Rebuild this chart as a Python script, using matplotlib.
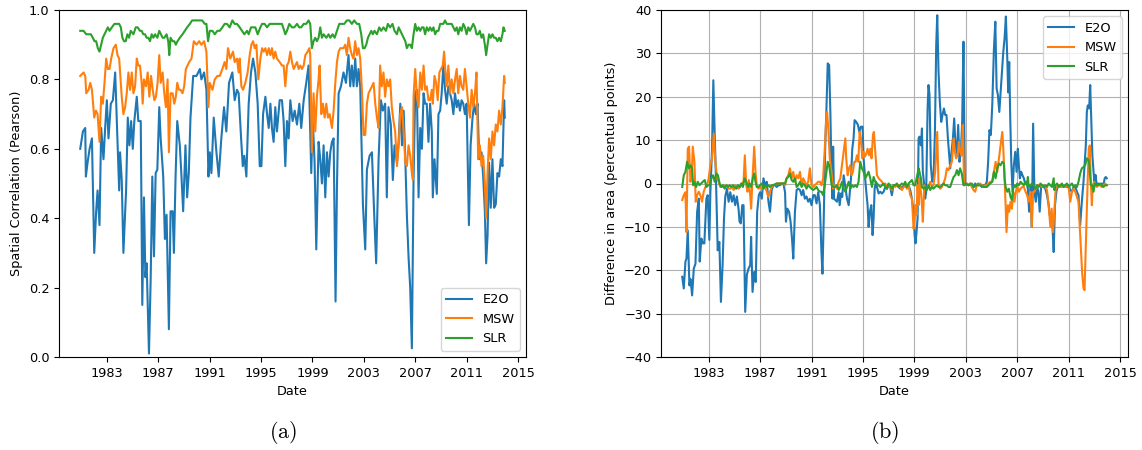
import matplotlib
matplotlib.use("Agg")
import matplotlib.pyplot as plt

plt.rcParams['font.size'] = 9.3
plt.rcParams['mathtext.fontset'] = 'cm'

# (decimal year, value)
# panel (a): spatial correlation
e2o_corr = [
    (1980.93, 0.60), (1981.14, 0.65), (1981.32, 0.66), (1981.37, 0.52), (1981.50, 0.56), (1981.66, 0.60),
    (1981.84, 0.63), (1982.02, 0.30), (1982.17, 0.42), (1982.28, 0.48), (1982.43, 0.38), (1982.56, 0.66),
    (1982.74, 0.57), (1982.87, 0.66), (1983.00, 0.74), (1983.13, 0.63), (1983.31, 0.73), (1983.47, 0.74),
    (1983.65, 0.82), (1983.78, 0.68), (1983.96, 0.48), (1984.03, 0.59), (1984.16, 0.51), (1984.29, 0.30),
    (1984.50, 0.48), (1984.63, 0.69), (1984.76, 0.61), (1984.89, 0.68), (1985.02, 0.60), (1985.14, 0.68),
    (1985.33, 0.75), (1985.45, 0.68), (1985.64, 0.68), (1985.76, 0.15), (1985.89, 0.46), (1986.00, 0.23),
    (1986.10, 0.27), (1986.28, 0.01), (1986.41, 0.22), (1986.54, 0.52), (1986.67, 0.29), (1986.80, 0.53),
    (1986.93, 0.54), (1987.08, 0.72), (1987.19, 0.63), (1987.39, 0.52), (1987.52, 0.34), (1987.65, 0.41),
    (1987.83, 0.08), (1987.96, 0.42), (1988.12, 0.42), (1988.22, 0.30), (1988.35, 0.52), (1988.48, 0.68),
    (1988.68, 0.61), (1988.81, 0.52), (1988.94, 0.42), (1989.12, 0.61), (1989.25, 0.46), (1989.38, 0.53),
    (1989.51, 0.69), (1989.72, 0.81), (1989.98, 0.81), (1990.24, 0.83), (1990.36, 0.80), (1990.57, 0.82),
    (1990.75, 0.77), (1990.91, 0.52), (1991.01, 0.59), (1991.14, 0.53), (1991.32, 0.69), (1991.53, 0.59),
    (1991.71, 0.52), (1991.91, 0.63), (1992.12, 0.72), (1992.30, 0.65), (1992.51, 0.79), (1992.77, 0.82),
    (1992.95, 0.74), (1993.13, 0.77), (1993.26, 0.76), (1993.45, 0.63), (1993.58, 0.55), (1993.70, 0.58),
    (1993.86, 0.52), (1994.04, 0.73), (1994.22, 0.82), (1994.38, 0.86), (1994.56, 0.82), (1994.74, 0.73),
    (1994.90, 0.55), (1995.03, 0.55), (1995.16, 0.70), (1995.34, 0.75), (1995.47, 0.70), (1995.60, 0.66),
    (1995.73, 0.73), (1995.85, 0.66), (1995.98, 0.62), (1996.11, 0.72), (1996.24, 0.65), (1996.45, 0.74),
    (1996.63, 0.74), (1996.76, 0.68), (1996.89, 0.55), (1997.02, 0.68), (1997.15, 0.63), (1997.28, 0.74),
    (1997.46, 0.68), (1997.62, 0.71), (1997.80, 0.67), (1997.98, 0.73), (1998.13, 0.66), (1998.32, 0.74),
    (1998.52, 0.79), (1998.70, 0.84), (1998.91, 0.53), (1999.02, 0.69), (1999.17, 0.56), (1999.30, 0.31),
    (1999.48, 0.62), (1999.61, 0.57), (1999.74, 0.50), (1999.87, 0.61), (2000.00, 0.46), (2000.13, 0.59),
    (2000.26, 0.52), (2000.39, 0.59), (2000.52, 0.62), (2000.65, 0.63), (2000.80, 0.16), (2000.91, 0.49),
    (2001.04, 0.76), (2001.22, 0.78), (2001.42, 0.82), (2001.61, 0.79), (2001.81, 0.87), (2001.94, 0.78),
    (2002.07, 0.84), (2002.20, 0.78), (2002.33, 0.86), (2002.46, 0.78), (2002.59, 0.83), (2002.72, 0.78),
    (2002.93, 0.44), (2003.11, 0.31), (2003.24, 0.54), (2003.45, 0.58), (2003.63, 0.59), (2003.81, 0.41),
    (2003.96, 0.27), (2004.15, 0.57), (2004.33, 0.74), (2004.48, 0.71), (2004.66, 0.73), (2004.79, 0.46),
    (2004.92, 0.72), (2005.10, 0.67), (2005.26, 0.51), (2005.39, 0.61), (2005.58, 0.56), (2005.71, 0.62),
    (2005.84, 0.73), (2005.97, 0.61), (2006.10, 0.71), (2006.23, 0.57), (2006.35, 0.41), (2006.48, 0.29),
    (2006.61, 0.20), (2006.74, 0.025), (2006.87, 0.51), (2007.00, 0.76), (2007.13, 0.77), (2007.26, 0.46),
    (2007.39, 0.66), (2007.52, 0.60), (2007.65, 0.76), (2007.77, 0.73), (2007.90, 0.73), (2008.03, 0.62),
    (2008.16, 0.73), (2008.29, 0.65), (2008.37, 0.46), (2008.50, 0.57), (2008.68, 0.47), (2008.81, 0.70),
    (2008.94, 0.71), (2009.06, 0.76), (2009.19, 0.84), (2009.32, 0.77), (2009.45, 0.73), (2009.58, 0.78),
    (2009.71, 0.76), (2009.84, 0.74), (2009.97, 0.70), (2010.10, 0.76), (2010.23, 0.72), (2010.35, 0.74),
    (2010.48, 0.71), (2010.61, 0.74), (2010.74, 0.73), (2010.87, 0.70), (2011.00, 0.73), (2011.18, 0.38),
    (2011.31, 0.61), (2011.46, 0.69), (2011.59, 0.73), (2011.72, 0.70), (2011.85, 0.73), (2011.98, 0.57),
    (2012.16, 0.59), (2012.29, 0.52), (2012.42, 0.42), (2012.52, 0.27), (2012.63, 0.35), (2012.75, 0.56),
    (2012.88, 0.43), (2013.01, 0.57), (2013.14, 0.43), (2013.27, 0.44), (2013.40, 0.53), (2013.53, 0.52),
    (2013.66, 0.57), (2013.79, 0.55), (2013.92, 0.74), (2013.97, 0.69),
]

msw_corr = [
    (1980.93, 0.81), (1981.19, 0.82), (1981.32, 0.81), (1981.40, 0.76), (1981.58, 0.77), (1981.71, 0.79),
    (1981.84, 0.77), (1982.02, 0.69), (1982.15, 0.71), (1982.28, 0.70), (1982.43, 0.62), (1982.56, 0.75),
    (1982.69, 0.73), (1982.82, 0.79), (1982.95, 0.86), (1983.08, 0.83), (1983.21, 0.83), (1983.34, 0.86),
    (1983.52, 0.89), (1983.70, 0.90), (1983.83, 0.87), (1983.96, 0.86), (1984.03, 0.82), (1984.16, 0.75),
    (1984.29, 0.70), (1984.42, 0.72), (1984.55, 0.76), (1984.68, 0.82), (1984.81, 0.77), (1984.94, 0.82),
    (1985.07, 0.76), (1985.20, 0.78), (1985.33, 0.86), (1985.45, 0.84), (1985.58, 0.84), (1985.71, 0.79),
    (1985.79, 0.73), (1985.89, 0.80), (1986.05, 0.78), (1986.18, 0.82), (1986.31, 0.75), (1986.44, 0.81),
    (1986.57, 0.77), (1986.70, 0.74), (1986.82, 0.75), (1986.95, 0.79), (1987.08, 0.87), (1987.19, 0.79),
    (1987.34, 0.82), (1987.47, 0.76), (1987.60, 0.72), (1987.73, 0.80), (1987.83, 0.59), (1987.96, 0.76),
    (1988.12, 0.76), (1988.25, 0.73), (1988.37, 0.75), (1988.48, 0.79), (1988.61, 0.77), (1988.74, 0.77),
    (1988.89, 0.76), (1989.02, 0.78), (1989.15, 0.83), (1989.28, 0.84), (1989.41, 0.85), (1989.59, 0.86),
    (1989.77, 0.91), (1989.98, 0.90), (1990.18, 0.91), (1990.36, 0.90), (1990.57, 0.91), (1990.75, 0.88),
    (1990.91, 0.72), (1991.01, 0.79), (1991.22, 0.77), (1991.40, 0.80), (1991.60, 0.81), (1991.79, 0.81),
    (1991.99, 0.83), (1992.17, 0.85), (1992.30, 0.83), (1992.43, 0.89), (1992.61, 0.86), (1992.82, 0.88),
    (1992.95, 0.85), (1993.13, 0.86), (1993.26, 0.82), (1993.34, 0.86), (1993.47, 0.78), (1993.60, 0.77),
    (1993.78, 0.79), (1993.96, 0.82), (1994.12, 0.87), (1994.25, 0.90), (1994.38, 0.91), (1994.51, 0.89),
    (1994.64, 0.90), (1994.79, 0.80), (1994.95, 0.86), (1995.08, 0.89), (1995.21, 0.88), (1995.34, 0.89),
    (1995.47, 0.87), (1995.60, 0.89), (1995.73, 0.87), (1995.85, 0.89), (1995.98, 0.86), (1996.11, 0.88),
    (1996.24, 0.86), (1996.45, 0.85), (1996.63, 0.84), (1996.76, 0.84), (1996.89, 0.78), (1997.02, 0.84),
    (1997.15, 0.85), (1997.28, 0.88), (1997.41, 0.85), (1997.54, 0.83), (1997.67, 0.84), (1997.80, 0.85),
    (1997.93, 0.83), (1998.06, 0.84), (1998.19, 0.83), (1998.32, 0.84), (1998.45, 0.87), (1998.63, 0.88),
    (1998.76, 0.89), (1998.83, 0.87), (1998.96, 0.59), (1999.09, 0.76), (1999.22, 0.65), (1999.35, 0.75),
    (1999.48, 0.80), (1999.56, 0.84), (1999.69, 0.70), (1999.82, 0.73), (1999.95, 0.69), (2000.08, 0.73),
    (2000.21, 0.69), (2000.34, 0.70), (2000.52, 0.66), (2000.65, 0.71), (2000.78, 0.79), (2000.91, 0.85),
    (2001.04, 0.88), (2001.17, 0.89), (2001.30, 0.89), (2001.42, 0.89), (2001.55, 0.90), (2001.68, 0.87),
    (2001.81, 0.92), (2001.94, 0.89), (2002.07, 0.87), (2002.20, 0.86), (2002.33, 0.91), (2002.46, 0.87),
    (2002.59, 0.89), (2002.72, 0.86), (2002.85, 0.77), (2002.98, 0.64), (2003.11, 0.64), (2003.24, 0.73),
    (2003.37, 0.76), (2003.50, 0.77), (2003.63, 0.78), (2003.76, 0.79), (2003.89, 0.73), (2004.02, 0.69),
    (2004.15, 0.66), (2004.27, 0.84), (2004.40, 0.78), (2004.53, 0.82), (2004.66, 0.75), (2004.79, 0.80),
    (2004.92, 0.78), (2005.05, 0.80), (2005.18, 0.72), (2005.31, 0.68), (2005.44, 0.65), (2005.58, 0.55),
    (2005.71, 0.61), (2005.84, 0.70), (2005.97, 0.72), (2006.10, 0.65), (2006.23, 0.56), (2006.35, 0.55),
    (2006.48, 0.61), (2006.61, 0.58), (2006.74, 0.53), (2006.82, 0.51), (2006.87, 0.75), (2007.00, 0.83),
    (2007.13, 0.75), (2007.26, 0.72), (2007.39, 0.82), (2007.52, 0.77), (2007.65, 0.84), (2007.77, 0.77),
    (2007.90, 0.78), (2008.03, 0.74), (2008.16, 0.74), (2008.29, 0.77), (2008.37, 0.73), (2008.50, 0.81),
    (2008.63, 0.79), (2008.75, 0.74), (2008.88, 0.82), (2009.01, 0.83), (2009.14, 0.84), (2009.25, 0.88),
    (2009.35, 0.82), (2009.45, 0.78), (2009.58, 0.84), (2009.71, 0.76), (2009.84, 0.80), (2009.97, 0.76),
    (2010.10, 0.80), (2010.23, 0.83), (2010.35, 0.76), (2010.48, 0.81), (2010.61, 0.78), (2010.74, 0.77),
    (2010.87, 0.83), (2011.00, 0.78), (2011.13, 0.73), (2011.26, 0.69), (2011.39, 0.77), (2011.52, 0.72),
    (2011.65, 0.76), (2011.77, 0.82), (2011.90, 0.57), (2012.03, 0.61), (2012.16, 0.55), (2012.29, 0.58),
    (2012.42, 0.50), (2012.52, 0.40), (2012.63, 0.53), (2012.75, 0.63), (2012.88, 0.57), (2013.01, 0.65),
    (2013.14, 0.61), (2013.27, 0.67), (2013.40, 0.65), (2013.53, 0.71), (2013.66, 0.67), (2013.79, 0.72),
    (2013.92, 0.81), (2013.97, 0.79),
]

slr_corr = [
    (1980.93, 0.94), (1981.19, 0.94), (1981.40, 0.93), (1981.58, 0.93), (1981.76, 0.93), (1981.91, 0.92),
    (1982.04, 0.91), (1982.17, 0.91), (1982.30, 0.89), (1982.43, 0.88), (1982.56, 0.90), (1982.69, 0.92),
    (1982.82, 0.93), (1982.95, 0.94), (1983.08, 0.95), (1983.21, 0.94), (1983.39, 0.95), (1983.59, 0.96),
    (1983.78, 0.96), (1983.96, 0.96), (1984.09, 0.95), (1984.21, 0.92), (1984.34, 0.91), (1984.47, 0.91),
    (1984.60, 0.93), (1984.73, 0.92), (1984.86, 0.94), (1985.07, 0.93), (1985.25, 0.95), (1985.40, 0.95),
    (1985.58, 0.94), (1985.71, 0.94), (1985.84, 0.93), (1985.97, 0.93), (1986.10, 0.92), (1986.23, 0.92),
    (1986.36, 0.91), (1986.49, 0.93), (1986.62, 0.92), (1986.75, 0.93), (1986.93, 0.92), (1987.08, 0.94),
    (1987.21, 0.93), (1987.34, 0.92), (1987.47, 0.92), (1987.65, 0.93), (1987.78, 0.91), (1987.86, 0.87),
    (1987.96, 0.92), (1988.12, 0.91), (1988.25, 0.91), (1988.37, 0.90), (1988.50, 0.91), (1988.68, 0.92),
    (1988.89, 0.93), (1989.07, 0.94), (1989.25, 0.95), (1989.46, 0.96), (1989.64, 0.97), (1989.85, 0.97),
    (1990.05, 0.97), (1990.24, 0.97), (1990.42, 0.97), (1990.62, 0.96), (1990.75, 0.96), (1990.88, 0.91),
    (1991.01, 0.94), (1991.22, 0.94), (1991.40, 0.93), (1991.60, 0.94), (1991.79, 0.94), (1991.99, 0.95),
    (1992.17, 0.96), (1992.35, 0.96), (1992.56, 0.95), (1992.77, 0.97), (1992.95, 0.96), (1993.13, 0.96),
    (1993.34, 0.95), (1993.52, 0.94), (1993.70, 0.93), (1993.91, 0.94), (1994.04, 0.93), (1994.22, 0.95),
    (1994.38, 0.95), (1994.56, 0.95), (1994.74, 0.93), (1994.95, 0.95), (1995.08, 0.96), (1995.28, 0.96),
    (1995.47, 0.95), (1995.67, 0.96), (1995.85, 0.96), (1996.04, 0.96), (1996.24, 0.96), (1996.45, 0.96),
    (1996.63, 0.96), (1996.81, 0.94), (1996.89, 0.93), (1997.02, 0.94), (1997.20, 0.96), (1997.41, 0.95),
    (1997.59, 0.95), (1997.80, 0.96), (1997.98, 0.95), (1998.13, 0.95), (1998.32, 0.96), (1998.52, 0.96),
    (1998.70, 0.97), (1998.83, 0.96), (1998.96, 0.89), (1999.09, 0.91), (1999.22, 0.92), (1999.35, 0.91),
    (1999.48, 0.92), (1999.61, 0.95), (1999.74, 0.92), (1999.87, 0.93), (2000.08, 0.92), (2000.26, 0.93),
    (2000.39, 0.92), (2000.57, 0.93), (2000.73, 0.92), (2000.91, 0.94), (2001.09, 0.96), (2001.30, 0.96),
    (2001.48, 0.96), (2001.68, 0.97), (2001.87, 0.97), (2002.07, 0.96), (2002.25, 0.97), (2002.46, 0.96),
    (2002.64, 0.96), (2002.80, 0.93), (2002.93, 0.89), (2003.06, 0.89), (2003.19, 0.90), (2003.32, 0.92),
    (2003.45, 0.93), (2003.58, 0.94), (2003.70, 0.93), (2003.83, 0.94), (2004.02, 0.93), (2004.20, 0.95),
    (2004.35, 0.94), (2004.53, 0.95), (2004.72, 0.94), (2004.87, 0.96), (2005.05, 0.95), (2005.23, 0.96),
    (2005.39, 0.94), (2005.58, 0.93), (2005.71, 0.95), (2005.84, 0.94), (2005.97, 0.93), (2006.10, 0.92),
    (2006.23, 0.91), (2006.35, 0.89), (2006.48, 0.90), (2006.61, 0.90), (2006.74, 0.89), (2006.87, 0.93),
    (2007.00, 0.96), (2007.13, 0.94), (2007.26, 0.95), (2007.39, 0.94), (2007.52, 0.95), (2007.65, 0.95),
    (2007.77, 0.93), (2007.90, 0.95), (2008.03, 0.94), (2008.16, 0.95), (2008.29, 0.94), (2008.42, 0.95),
    (2008.55, 0.93), (2008.68, 0.94), (2008.81, 0.94), (2008.94, 0.96), (2009.06, 0.96), (2009.19, 0.96),
    (2009.32, 0.97), (2009.45, 0.96), (2009.58, 0.96), (2009.71, 0.96), (2009.84, 0.96), (2009.97, 0.95),
    (2010.10, 0.94), (2010.23, 0.95), (2010.35, 0.93), (2010.48, 0.95), (2010.61, 0.94), (2010.74, 0.96),
    (2010.87, 0.95), (2011.00, 0.93), (2011.13, 0.95), (2011.26, 0.94), (2011.39, 0.95), (2011.52, 0.96),
    (2011.65, 0.95), (2011.77, 0.93), (2011.90, 0.93), (2012.03, 0.94), (2012.16, 0.92), (2012.29, 0.93),
    (2012.42, 0.90), (2012.52, 0.87), (2012.63, 0.90), (2012.75, 0.93), (2012.88, 0.92), (2013.01, 0.93),
    (2013.14, 0.92), (2013.27, 0.92), (2013.40, 0.91), (2013.53, 0.92), (2013.66, 0.91), (2013.79, 0.93),
    (2013.87, 0.95), (2013.97, 0.94),
]

# panel (b): difference in area (percentual points)
e2o_diff = [
    (1980.94, -21.5), (1981.06, -24.2), (1981.19, -18.0), (1981.27, -17.3), (1981.37, -10.8), (1981.50, -23.5),
    (1981.58, -22.0), (1981.71, -25.8), (1981.84, -19.6), (1981.97, -18.5), (1982.10, -6.5), (1982.23, -3.5),
    (1982.30, -18.0), (1982.43, -12.7), (1982.54, -13.8), (1982.66, -13.8), (1982.82, -3.5), (1982.92, -2.7),
    (1983.05, -13.0), (1983.13, -2.0), (1983.26, 8.0), (1983.36, 23.8), (1983.46, 12.0), (1983.57, 0.4),
    (1983.70, -15.4), (1983.83, -13.5), (1983.95, -27.3), (1984.08, -18.8), (1984.19, -8.0), (1984.29, -3.0),
    (1984.42, -1.2), (1984.55, -4.2), (1984.68, -2.0), (1984.81, -4.2), (1984.94, -2.7), (1985.06, -5.0),
    (1985.19, -3.0), (1985.32, -5.8), (1985.40, -8.8), (1985.50, -9.2), (1985.61, -5.0), (1985.71, -5.0),
    (1985.84, -29.6), (1985.97, -21.0), (1986.10, -19.6), (1986.23, -18.8), (1986.30, -12.3), (1986.41, -25.0),
    (1986.54, -20.4), (1986.66, -22.7), (1986.77, -6.5), (1986.90, -2.7), (1987.00, -2.0), (1987.13, -3.5),
    (1987.26, 1.2), (1987.39, -0.4), (1987.52, 0.4), (1987.65, -4.2), (1987.77, -6.5), (1987.90, -1.5),
    (1988.03, -0.4), (1988.16, -0.4), (1988.29, -0.8), (1988.42, -0.4), (1988.55, -0.4), (1988.68, 0.0),
    (1988.81, 0.0), (1988.94, -2.0), (1989.01, -8.8), (1989.12, -5.8), (1989.25, -6.5), (1989.37, -8.8),
    (1989.48, -12.7), (1989.58, -17.3), (1989.71, -6.5), (1989.84, -1.5), (1989.97, -1.2), (1990.10, -1.5),
    (1990.23, -2.7), (1990.35, -1.5), (1990.48, -3.5), (1990.61, -3.0), (1990.74, -4.2), (1990.87, -3.5),
    (1991.00, -5.0), (1991.13, -2.7), (1991.26, -2.7), (1991.39, -4.6), (1991.52, -2.0), (1991.65, -5.0),
    (1991.77, -15.8), (1991.85, -20.8), (1991.95, -8.0), (1992.06, 8.0), (1992.16, 17.3), (1992.26, 27.7),
    (1992.37, 27.3), (1992.47, 15.8), (1992.55, 2.7), (1992.63, -3.5), (1992.68, 8.5), (1992.75, -3.5),
    (1992.98, -4.2), (1993.11, -2.0), (1993.19, -5.0), (1993.29, -2.3), (1993.39, -3.1), (1993.50, 1.9),
    (1993.63, -0.8), (1993.76, -3.5), (1993.89, -5.0), (1993.96, -2.7), (1994.07, 1.2), (1994.17, 8.0),
    (1994.27, 10.4), (1994.35, 14.6), (1994.48, 14.2), (1994.61, 13.5), (1994.72, 11.9), (1994.84, 13.1),
    (1994.97, 13.1), (1995.05, 5.8), (1995.16, 1.5), (1995.26, -1.9), (1995.36, -5.0), (1995.44, -10.0),
    (1995.54, -6.5), (1995.65, -5.0), (1995.75, -11.9), (1995.83, -8.0), (1995.91, -1.2), (1996.01, 0.4),
    (1996.09, -0.8), (1996.22, -2.3), (1996.35, -1.9), (1996.48, -2.3), (1996.61, -1.9), (1996.74, -0.8),
    (1996.87, -1.2), (1996.99, -0.4), (1997.12, -0.8), (1997.25, -2.7), (1997.38, -0.4), (1997.51, -0.4),
    (1997.64, -0.4), (1997.77, -0.8), (1997.90, -1.2), (1998.03, -0.8), (1998.16, -0.8), (1998.29, -0.4),
    (1998.42, -0.8), (1998.55, -0.4), (1998.68, -1.5), (1998.81, -3.5), (1998.94, -6.5), (1999.02, -11.9),
    (1999.09, -13.8), (1999.17, -11.2), (1999.25, -8.0), (1999.33, 10.4), (1999.40, 10.8), (1999.51, 8.8),
    (1999.59, 12.7), (1999.66, 2.7), (1999.77, -0.4), (1999.84, -3.5), (1999.92, -1.9), (2000.03, 17.3),
    (2000.10, 22.7), (2000.18, 20.4), (2000.28, 4.2), (2000.39, 0.4), (2000.49, 1.2), (2000.60, 11.9),
    (2000.70, 31.9), (2000.78, 38.8), (2000.88, 25.8), (2000.98, 18.8), (2001.09, 14.2), (2001.19, 15.8),
    (2001.30, 17.3), (2001.40, 15.8), (2001.50, 15.8), (2001.61, 10.4), (2001.71, 6.5), (2001.79, 3.5),
    (2001.89, 7.3), (2002.00, 10.4), (2002.10, 15.0), (2002.20, 8.8), (2002.31, 6.9), (2002.41, 13.5),
    (2002.51, 5.0), (2002.62, 7.3), (2002.72, 14.2), (2002.82, 32.7), (2002.93, -0.4), (2003.08, 0.0),
    (2003.21, -0.4), (2003.34, 0.0), (2003.47, -0.4), (2003.60, -0.8), (2003.73, 0.0), (2003.86, -0.4),
    (2003.99, 0.0), (2004.12, -0.4), (2004.25, -0.8), (2004.38, -0.4), (2004.51, -0.4), (2004.64, 0.4),
    (2004.74, 5.0), (2004.84, 12.3), (2004.95, 11.2), (2005.06, 18.0), (2005.19, 31.0), (2005.30, 37.3),
    (2005.40, 21.9), (2005.50, 20.4), (2005.61, 16.5), (2005.71, 21.0), (2005.81, 25.8), (2005.92, 30.4),
    (2006.02, 33.5), (2006.12, 38.5), (2006.23, 28.8), (2006.30, 21.0), (2006.38, 28.0), (2006.46, 15.0),
    (2006.54, 5.0), (2006.64, -1.9), (2006.74, 4.2), (2006.85, 7.3), (2006.95, 2.7), (2007.05, 8.0),
    (2007.13, 4.2), (2007.21, 1.2), (2007.31, 2.7), (2007.41, 1.9), (2007.52, 1.2), (2007.62, 0.0),
    (2007.72, 0.4), (2007.83, -1.2), (2007.93, -6.5), (2008.03, -0.4), (2008.14, -10.0), (2008.24, 13.8),
    (2008.34, -1.9), (2008.45, -4.2), (2008.55, -0.8), (2008.65, -1.9), (2008.75, -6.5), (2008.86, -0.8),
    (2008.96, -0.4), (2009.06, -0.8), (2009.19, -1.2), (2009.32, -2.7), (2009.45, -5.0), (2009.53, -7.3),
    (2009.63, -6.9), (2009.74, -9.6), (2009.84, -15.8), (2009.94, -5.0), (2010.05, -1.9), (2010.15, -0.8),
    (2010.25, -0.4), (2010.35, -0.8), (2010.48, -0.4), (2010.61, -0.8), (2010.74, -0.4), (2010.87, -0.8),
    (2011.00, -0.4), (2011.13, -1.5), (2011.26, -1.9), (2011.39, -0.8), (2011.52, -0.8), (2011.65, -1.9),
    (2011.77, -2.7), (2011.90, -9.6), (2012.03, -4.2), (2012.16, 0.4), (2012.24, 4.2), (2012.34, 8.8),
    (2012.42, 16.5), (2012.49, 18.0), (2012.60, 17.3), (2012.68, 22.7), (2012.75, 15.8), (2012.85, 6.5),
    (2012.94, 2.7), (2013.01, 0.4), (2013.09, 2.0), (2013.19, -0.4), (2013.32, 0.0), (2013.45, -0.4),
    (2013.58, 0.0), (2013.71, -0.4), (2013.81, 1.2), (2013.89, 1.5), (2013.97, 1.2),
]

msw_diff = [
    (1980.94, -3.8), (1981.06, -2.7), (1981.19, -2.0), (1981.27, -11.2), (1981.37, 8.0), (1981.47, 8.5),
    (1981.58, 0.4), (1981.68, 2.0), (1981.76, 8.5), (1981.89, 5.0), (1981.99, -4.2), (1982.10, -2.7),
    (1982.23, -1.9), (1982.35, -2.7), (1982.48, -4.2), (1982.61, -1.9), (1982.74, -0.8), (1982.87, -0.4),
    (1983.00, 1.2), (1983.13, 4.2), (1983.26, 5.8), (1983.39, 11.5), (1983.52, 5.0), (1983.65, 1.2),
    (1983.77, 0.4), (1983.90, -0.8), (1984.03, -0.8), (1984.16, -0.4), (1984.29, -0.8), (1984.42, -0.4),
    (1984.55, -1.2), (1984.68, -1.2), (1984.81, -0.8), (1984.94, -1.5), (1985.06, -0.4), (1985.19, -0.8),
    (1985.32, -1.2), (1985.45, -0.8), (1985.58, 0.0), (1985.71, 0.4), (1985.81, 6.5), (1985.92, -0.4),
    (1986.02, -1.9), (1986.12, 0.8), (1986.23, -2.7), (1986.30, -5.8), (1986.41, 1.2), (1986.54, 8.5),
    (1986.64, 2.7), (1986.74, -0.4), (1986.87, -1.2), (1987.00, -0.8), (1987.13, -1.2), (1987.26, -1.2),
    (1987.39, -0.8), (1987.52, -1.9), (1987.65, -3.1), (1987.77, -1.9), (1987.90, -0.8), (1988.03, -0.4),
    (1988.29, 0.0), (1988.55, 0.0), (1988.81, 0.0), (1988.94, -0.4), (1989.06, 1.2), (1989.19, 1.9),
    (1989.32, 3.5), (1989.45, 1.2), (1989.58, 2.7), (1989.71, 0.4), (1989.84, 1.9), (1989.97, 1.2),
    (1990.10, 2.7), (1990.23, -0.4), (1990.35, 1.2), (1990.48, 0.4), (1990.61, -0.4), (1990.74, 0.4),
    (1990.87, 3.5), (1991.00, -0.4), (1991.13, -0.8), (1991.26, -0.4), (1991.39, 0.0), (1991.52, 0.4),
    (1991.65, 0.4), (1991.77, -0.4), (1991.90, 1.2), (1992.03, 8.0), (1992.16, 15.8), (1992.21, 16.5),
    (1992.32, 11.9), (1992.42, 5.8), (1992.55, 2.7), (1992.68, -1.2), (1992.81, -0.4), (1992.98, -1.2),
    (1993.11, 0.4), (1993.24, 1.2), (1993.37, 4.2), (1993.50, 7.3), (1993.63, 10.4), (1993.70, 5.8),
    (1993.81, 1.9), (1993.91, 3.5), (1994.02, 4.2), (1994.12, 1.9), (1994.22, 2.7), (1994.33, 5.0),
    (1994.43, 5.0), (1994.53, 6.5), (1994.64, 5.0), (1994.74, 11.9), (1994.84, 10.4), (1994.95, 5.8),
    (1995.05, 7.3), (1995.16, 6.2), (1995.26, 6.9), (1995.36, 8.0), (1995.47, 6.5), (1995.57, 8.0),
    (1995.67, 5.8), (1995.78, 11.2), (1995.85, 11.9), (1995.96, 7.3), (1996.09, 1.9), (1996.22, 1.2),
    (1996.35, 0.8), (1996.48, 0.4), (1996.61, -0.4), (1996.74, 0.0), (1996.87, -0.8), (1996.99, -0.4),
    (1997.12, -0.8), (1997.25, -1.5), (1997.38, -0.4), (1997.51, -0.8), (1997.64, -0.4), (1997.77, -0.4),
    (1997.90, -0.8), (1998.03, -1.5), (1998.16, -0.8), (1998.29, -0.4), (1998.42, -1.2), (1998.55, -0.4),
    (1998.68, -2.7), (1998.81, -3.5), (1998.94, -10.4), (1999.02, -8.8), (1999.09, -5.0), (1999.17, -7.3),
    (1999.25, -0.4), (1999.33, -5.0), (1999.40, 1.2), (1999.51, -1.9), (1999.59, -5.0), (1999.66, -8.8),
    (1999.77, -0.4), (1999.84, -0.8), (1999.97, -1.2), (2000.10, -0.8), (2000.23, 0.4), (2000.36, -0.8),
    (2000.49, -0.4), (2000.62, 2.7), (2000.73, 8.8), (2000.78, 11.9), (2000.88, -0.4), (2001.01, -1.2),
    (2001.14, -0.8), (2001.27, 0.0), (2001.40, 1.2), (2001.53, 3.5), (2001.66, 3.1), (2001.79, 4.2),
    (2001.92, 5.0), (2002.05, 10.4), (2002.15, 7.3), (2002.25, 5.8), (2002.36, 6.5), (2002.46, 9.6),
    (2002.56, 7.3), (2002.67, 6.5), (2002.77, 13.5), (2002.87, -0.4), (2003.03, 0.0), (2003.21, -0.4),
    (2003.34, 0.0), (2003.47, -0.8), (2003.60, -1.5), (2003.73, -1.9), (2003.86, -0.4), (2003.99, -0.4),
    (2004.12, 0.0), (2004.25, -0.4), (2004.38, -0.8), (2004.51, -0.4), (2004.64, -0.4), (2004.77, 0.0),
    (2004.90, 0.4), (2005.06, 0.4), (2005.19, 2.7), (2005.32, 5.0), (2005.45, 2.7), (2005.58, 5.8),
    (2005.71, 8.8), (2005.84, 11.9), (2005.92, 8.0), (2006.02, 1.2), (2006.10, -5.0), (2006.17, -11.2),
    (2006.28, -5.0), (2006.38, -6.5), (2006.48, -4.2), (2006.59, -5.8), (2006.69, -1.9), (2006.79, -4.2),
    (2006.90, -1.9), (2007.00, -0.4), (2007.13, -1.9), (2007.26, -1.2), (2007.39, -0.8), (2007.52, -0.8),
    (2007.65, -1.9), (2007.77, -2.7), (2007.90, -4.2), (2008.03, -1.9), (2008.14, -10.0), (2008.24, -1.9),
    (2008.34, -1.9), (2008.45, -1.2), (2008.55, -0.8), (2008.68, -0.4), (2008.81, -0.4), (2008.94, -0.8),
    (2009.06, -0.4), (2009.19, -0.8), (2009.32, -1.5), (2009.45, -5.0), (2009.58, -10.0), (2009.68, -5.8),
    (2009.79, -11.2), (2009.89, -6.5), (2009.99, -1.2), (2010.10, -0.8), (2010.23, -0.4), (2010.35, -0.8),
    (2010.48, -0.8), (2010.61, -0.4), (2010.74, -0.8), (2010.87, -0.4), (2011.00, -0.8), (2011.13, -4.2),
    (2011.26, -1.9), (2011.39, -1.2), (2011.52, -1.9), (2011.65, -3.1), (2011.77, -4.2), (2011.85, -8.8),
    (2011.95, -14.2), (2012.05, -20.4), (2012.16, -24.2), (2012.24, -24.6), (2012.34, -14.2), (2012.42, -5.0),
    (2012.49, 1.2), (2012.57, 8.1), (2012.65, 8.8), (2012.73, 0.4), (2012.81, -5.0), (2012.88, -0.4),
    (2012.99, 0.4), (2013.09, -0.4), (2013.19, -0.8), (2013.32, -0.4), (2013.45, -0.4), (2013.58, -0.8),
    (2013.71, -0.4), (2013.84, 0.0), (2013.97, -0.4),
]

slr_diff = [
    (1980.94, -0.8), (1981.06, 1.9), (1981.19, 2.7), (1981.32, 5.0), (1981.45, 3.5), (1981.58, 4.2),
    (1981.71, 3.5), (1981.79, -0.4), (1981.89, 0.4), (1982.02, -0.8), (1982.15, 0.4), (1982.28, -0.4),
    (1982.41, 0.0), (1982.54, 0.4), (1982.69, 0.8), (1982.82, -0.8), (1982.95, -0.4), (1983.08, -0.4),
    (1983.21, 1.2), (1983.34, 1.9), (1983.46, 0.4), (1983.59, 2.3), (1983.72, 1.9), (1983.85, 0.0),
    (1983.98, -0.8), (1984.11, -0.4), (1984.24, -1.2), (1984.37, -0.4), (1984.50, -0.8), (1984.63, -0.4),
    (1984.75, -0.8), (1984.88, -0.4), (1985.01, -0.8), (1985.14, -1.2), (1985.27, -0.4), (1985.40, -0.8),
    (1985.53, 0.0), (1985.66, -0.8), (1985.79, 1.2), (1985.92, 0.4), (1986.05, -0.8), (1986.17, 0.0),
    (1986.30, -0.8), (1986.43, 1.2), (1986.54, 2.3), (1986.64, 0.4), (1986.74, -0.8), (1986.87, -0.8),
    (1987.00, -0.4), (1987.13, 0.0), (1987.26, -1.2), (1987.39, -0.4), (1987.52, -0.8), (1987.65, -0.4),
    (1987.77, -0.8), (1987.90, -0.4), (1988.03, -0.4), (1988.29, 0.0), (1988.55, 0.0), (1988.81, 0.0),
    (1988.94, 0.0), (1989.06, 1.2), (1989.19, 1.5), (1989.32, 2.3), (1989.45, 0.8), (1989.58, 0.4),
    (1989.71, 1.2), (1989.84, -0.8), (1989.97, -0.4), (1990.10, 0.4), (1990.23, -0.8), (1990.35, 0.0),
    (1990.48, -0.4), (1990.61, -1.2), (1990.74, -0.4), (1990.87, -0.8), (1991.00, -1.2), (1991.13, -1.5),
    (1991.26, -1.2), (1991.39, -0.8), (1991.52, -1.5), (1991.65, -1.9), (1991.77, -1.9), (1991.90, -2.7),
    (1992.03, -0.4), (1992.16, 2.7), (1992.26, 5.0), (1992.37, 4.2), (1992.47, 1.9), (1992.57, -0.4),
    (1992.68, -0.8), (1992.81, -0.8), (1992.98, -0.4), (1993.11, -1.5), (1993.24, -0.8), (1993.37, 0.4),
    (1993.50, -1.2), (1993.63, -1.9), (1993.76, -0.8), (1993.89, 0.4), (1994.02, -1.2), (1994.15, -0.4),
    (1994.27, -0.8), (1994.40, -0.4), (1994.53, -0.8), (1994.66, 0.4), (1994.79, 5.0), (1994.92, 3.5),
    (1995.05, 2.7), (1995.18, 1.2), (1995.31, 1.9), (1995.44, 2.7), (1995.57, 1.2), (1995.70, -0.8),
    (1995.83, 1.5), (1995.96, 0.4), (1996.09, 0.0), (1996.22, -0.4), (1996.35, -0.8), (1996.48, -0.4),
    (1996.61, 0.0), (1996.74, -0.8), (1996.87, -1.2), (1996.99, 0.0), (1997.12, -0.4), (1997.25, -1.2),
    (1997.38, -0.4), (1997.51, -0.4), (1997.64, 0.0), (1997.77, -0.8), (1997.90, -0.4), (1998.03, 0.0),
    (1998.16, -0.4), (1998.29, 0.4), (1998.42, -0.8), (1998.55, 0.0), (1998.68, 0.4), (1998.81, 0.8),
    (1998.94, -0.4), (1999.07, -0.4), (1999.20, 1.5), (1999.33, 3.5), (1999.40, 2.7), (1999.51, 1.2),
    (1999.59, -0.8), (1999.72, -1.2), (1999.84, -0.8), (1999.97, -1.5), (2000.10, -0.4), (2000.23, -1.5),
    (2000.36, -0.8), (2000.49, -1.2), (2000.62, -0.8), (2000.75, -0.4), (2000.88, -0.8), (2001.01, -0.8),
    (2001.14, -0.4), (2001.27, 0.0), (2001.40, -0.4), (2001.53, -0.4), (2001.66, -0.8), (2001.79, -0.8),
    (2001.92, 0.4), (2002.05, 1.5), (2002.18, 1.9), (2002.31, 3.1), (2002.44, 1.9), (2002.56, 3.5),
    (2002.69, 2.3), (2002.82, -0.4), (2002.95, 0.0), (2003.21, -0.4), (2003.47, 0.0), (2003.60, -0.8),
    (2003.86, -0.4), (2004.12, -0.4), (2004.38, -0.8), (2004.64, -0.8), (2004.77, -0.4), (2004.90, 0.0),
    (2005.06, 0.4), (2005.19, 2.7), (2005.32, 1.2), (2005.45, 3.5), (2005.58, 4.6), (2005.71, 4.2),
    (2005.84, 5.0), (2005.97, 4.6), (2006.02, 1.2), (2006.10, -0.8), (2006.23, -1.9), (2006.35, -1.2),
    (2006.48, -3.1), (2006.59, -3.8), (2006.69, -1.2), (2006.79, -0.4), (2006.90, -0.8), (2007.00, 0.0),
    (2007.13, -0.4), (2007.26, 0.4), (2007.39, 0.0), (2007.52, -0.4), (2007.65, 0.4), (2007.77, -0.4),
    (2007.83, 1.5), (2007.90, -0.8), (2008.03, -0.4), (2008.16, 0.0), (2008.29, -0.4), (2008.42, -1.2),
    (2008.55, -0.4), (2008.68, -0.8), (2008.81, 0.0), (2008.94, -0.4), (2009.06, -0.8), (2009.19, -0.4),
    (2009.32, -0.8), (2009.45, 0.0), (2009.58, -0.4), (2009.71, -0.8), (2009.84, 1.2), (2009.89, -1.5),
    (2009.99, -0.4), (2010.10, 0.0), (2010.23, -0.8), (2010.35, -0.4), (2010.48, 0.0), (2010.61, -0.8),
    (2010.74, -0.4), (2010.87, 0.0), (2011.00, -0.8), (2011.13, -0.4), (2011.26, 0.0), (2011.39, -0.8),
    (2011.52, -0.4), (2011.65, -0.8), (2011.77, 0.4), (2011.90, 2.3), (2012.03, 3.5), (2012.16, 3.8),
    (2012.29, 4.2), (2012.42, 5.8), (2012.55, 5.4), (2012.62, 4.2), (2012.73, -0.4), (2012.83, -0.4),
    (2012.94, -1.9), (2013.04, 0.0), (2013.19, -0.4), (2013.32, -0.4), (2013.45, 0.0), (2013.58, -0.4),
    (2013.71, -0.8), (2013.84, -0.4), (2013.97, -0.4),
]

series_names = ['E2O', 'MSW', 'SLR']
year_ticks = [1983, 1987, 1991, 1995, 1999, 2003, 2007, 2011, 2015]

W, H = 1142, 450
fig = plt.figure(figsize=(W / 100, H / 100), dpi=100)
ax1 = fig.add_axes([59 / W, 93 / H, 467 / W, 347 / H])
ax2 = fig.add_axes([661 / W, 93 / H, 467 / W, 347 / H])

for data, name in zip([e2o_corr, msw_corr, slr_corr], series_names):
    x, y = zip(*data)
    ax1.plot(x, y, label=name)
ax1.set_ylim(0, 1.0)
ax1.set_xticks(year_ticks)
ax1.set_xlabel('Date')
ax1.set_ylabel('Spatial Correlation (Pearson)')
ax1.legend(loc='lower right')

for data, name in zip([e2o_diff, msw_diff, slr_diff], series_names):
    x, y = zip(*data)
    ax2.plot(x, y, label=name)
ax2.set_ylim(-40, 40)
ax2.set_xticks(year_ticks)
ax2.grid(True)
ax2.set_xlabel('Date')
ax2.set_ylabel('Difference in area (percentual points)')
ax2.legend(loc='upper right')

fig.text(283 / W, 18 / H, r'$\mathrm{(a)}$', ha='center', va='center', fontsize=16)
fig.text(885 / W, 18 / H, r'$\mathrm{(b)}$', ha='center', va='center', fontsize=16)

fig.savefig('out.png', dpi=100)
